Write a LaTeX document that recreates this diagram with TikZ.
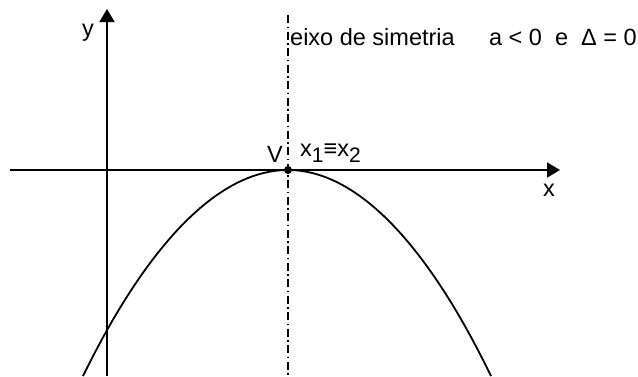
\documentclass[tikz,border=0pt]{standalone}
\usepackage{fontspec}
\setmainfont{Liberation Sans}
\usetikzlibrary{arrows.meta}
\tikzset{
  axis/.style={line width=1.8pt,-{Triangle[length=13pt,width=15pt]}},
  curve/.style={line width=1.8pt},
  symaxis/.style={line width=1.6pt,dash pattern=on 8pt off 3.5pt on 1.5pt off 3.5pt},
  lbl/.style={font=\fontsize{23.5}{26}\selectfont,inner sep=0pt}
}
\newcommand{\mysub}[1]{\raisebox{-6pt}{\fontsize{21}{24}\selectfont #1}}
\begin{document}
\begin{tikzpicture}[x=1pt,y=-1pt]
\useasboundingbox (0,0) rectangle (638,376);
\coordinate (xs) at (10,170);
\coordinate (xe) at (560,170);
\coordinate (ys) at (107,376);
\coordinate (ye) at (107,9);
\coordinate (st) at (288,15);
\coordinate (sb) at (288,376);
\coordinate (pl) at (83,376);
\coordinate (pr) at (491,376);
\draw[axis] (xs) -- (xe);
\draw[axis] (ys) -- (ye);
\draw[symaxis] (st) -- (sb);
\node[circle,fill,inner sep=0pt,minimum size=8pt] (V) at (288,170) {};
\draw[curve] (pl) parabola bend (V.center) (pr);
\node[lbl] (ylab) at (88,33) {y};
\node[lbl] (xlab) at (549,190) {x};
\node[lbl,anchor=base east] (vlab) at (283,162) {V};
\node[lbl,anchor=base west] (x12) at (300,156) {x\mysub{1}≡x\mysub{2}};
\node[lbl,anchor=base west] (eixo) at (290,45) {eixo de simetria};
\node[lbl,anchor=base east] (cond) at (637,45) {a < 0\ \ e\ \ Δ = 0};
\end{tikzpicture}
\end{document}
